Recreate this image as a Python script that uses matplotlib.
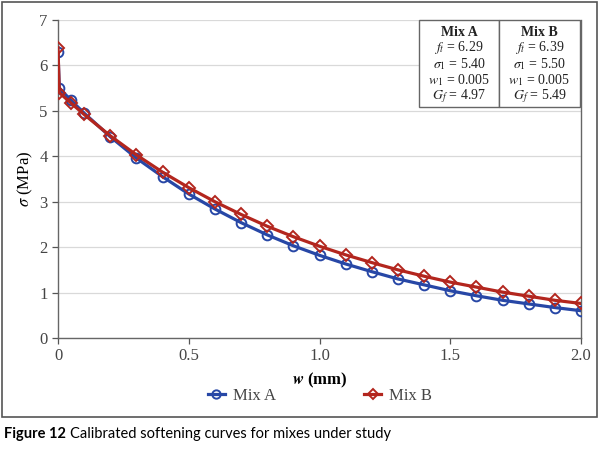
import matplotlib.pyplot as plt
from matplotlib.patches import Rectangle
from matplotlib.lines import Line2D

# crack opening w (mm)
w = [0, 0.005, 0.05, 0.1, 0.2, 0.3, 0.4, 0.5, 0.6, 0.7, 0.8, 0.9, 1.0,
     1.1, 1.2, 1.3, 1.4, 1.5, 1.6, 1.7, 1.8, 1.9, 2.0]
mix_a = [6.29, 5.50, 5.23, 4.95, 4.43, 3.96, 3.55, 3.17, 2.84, 2.54, 2.27, 2.03, 1.82,
         1.63, 1.46, 1.30, 1.17, 1.04, 0.93, 0.83, 0.75, 0.67, 0.60]
mix_b = [6.39, 5.40, 5.17, 4.92, 4.45, 4.03, 3.65, 3.31, 3.00, 2.72, 2.46, 2.23, 2.02,
         1.83, 1.66, 1.50, 1.36, 1.23, 1.12, 1.01, 0.92, 0.83, 0.76]

x_ticks = [0, 0.5, 1.0, 1.5, 2.0]
x_tick_labels = ['0', '0.5', '1.0', '1.5', '2.0']
y_ticks = [0, 1, 2, 3, 4, 5, 6, 7]

table_a = ['Mix A', r'$f_t$ = 6.29', r'$\sigma_1$ = 5.40', r'$w_1$ = 0.005', r'$G_f$ = 4.97']
table_b = ['Mix B', r'$f_t$ = 6.39', r'$\sigma_1$ = 5.50', r'$w_1$ = 0.005', r'$G_f$ = 5.49']

blue = '#2747a6'
red = '#b3261e'
grey = '#555555'

plt.rcParams['font.family'] = 'Liberation Serif'
plt.rcParams['mathtext.fontset'] = 'stix'

fig = plt.figure(figsize=(6.02, 4.49), dpi=100)
ax = fig.add_axes([58 / 602, 1 - 338 / 449, 523 / 602, 318 / 449])

ax.plot(w, mix_a, color=blue, lw=2.3, marker='o', ms=7, mfc='none', mew=1.4,
        label='Mix A', zorder=3)
ax.plot(w, mix_b, color=red, lw=2.3, marker='D', ms=6, mfc='none', mew=1.4,
        label='Mix B', zorder=4)

ax.set_xlim(0, 2.0)
ax.set_ylim(0, 7)
ax.set_xticks(x_ticks)
ax.set_xticklabels(x_tick_labels)
ax.set_yticks(y_ticks)
ax.grid(axis='y', color='#d9d9d9', lw=0.9)
ax.set_axisbelow(True)
ax.tick_params(colors=grey, labelcolor='#444444', labelsize=12, length=4, width=0.9)
ax.tick_params(axis='x', pad=3)
for side in ['left', 'bottom', 'right']:
    ax.spines[side].set_color('#666666')
    ax.spines[side].set_linewidth(1.0)
ax.spines['top'].set_visible(False)

ax.set_ylabel(r'$\sigma$ (MPa)', fontsize=12, labelpad=3)
ax.set_xlabel(r'$\mathbfit{w}$ (mm)', fontsize=12, fontweight='bold', labelpad=5)

# parameter table, upper right
x0, xm, x1 = 419 / 602, 499 / 602, 580 / 602
yt, yb = 1 - 20 / 449, 1 - 107 / 449
for xa, xb in [(x0, xm), (xm, x1)]:
    fig.patches.append(Rectangle((xa, yb), xb - xa, yt - yb, transform=fig.transFigure,
                                 facecolor='white', edgecolor='#666666', lw=1.0, zorder=5))
for xc, col in [((x0 + xm) / 2, table_a), ((xm + x1) / 2, table_b)]:
    for i, t in enumerate(col):
        fig.text(xc, 1 - (32 + i * 16) / 449, t, ha='center', va='center',
                 fontsize=10, color='#222222', zorder=6,
                 fontweight='bold' if i == 0 else 'normal')

# legend below the x label
handles = [Line2D([], [], color=blue, lw=2.3, marker='o', ms=6, mfc='none', mew=1.4),
           Line2D([], [], color=red, lw=2.3, marker='D', ms=5, mfc='none', mew=1.4)]
fig.legend(handles, ['Mix A', 'Mix B'], loc='center', bbox_to_anchor=(320 / 602, 1 - 396 / 449),
           ncol=2, frameon=False, fontsize=12, handlelength=1.0, columnspacing=5.3,
           labelcolor='#444444', handletextpad=0.5)

# outer frame and caption
fig.patches.append(Rectangle((2 / 602, 1 - 417 / 449), 595 / 602, 415 / 449,
                             transform=fig.transFigure, facecolor='none',
                             edgecolor='#555555', lw=1.2))
cap = fig.text(4 / 602, 1 - 434 / 449, 'Figure 12', fontsize=10.5, fontweight='bold',
               family='Lato', va='center', ha='left')
fig.canvas.draw()
bb = cap.get_window_extent().transformed(fig.transFigure.inverted())
fig.text(bb.x1 + 4 / 602, 1 - 434 / 449, 'Calibrated softening curves for mixes under study',
         fontsize=10.5, family='Lato', va='center', ha='left')

fig.savefig('out.png', dpi=100)
